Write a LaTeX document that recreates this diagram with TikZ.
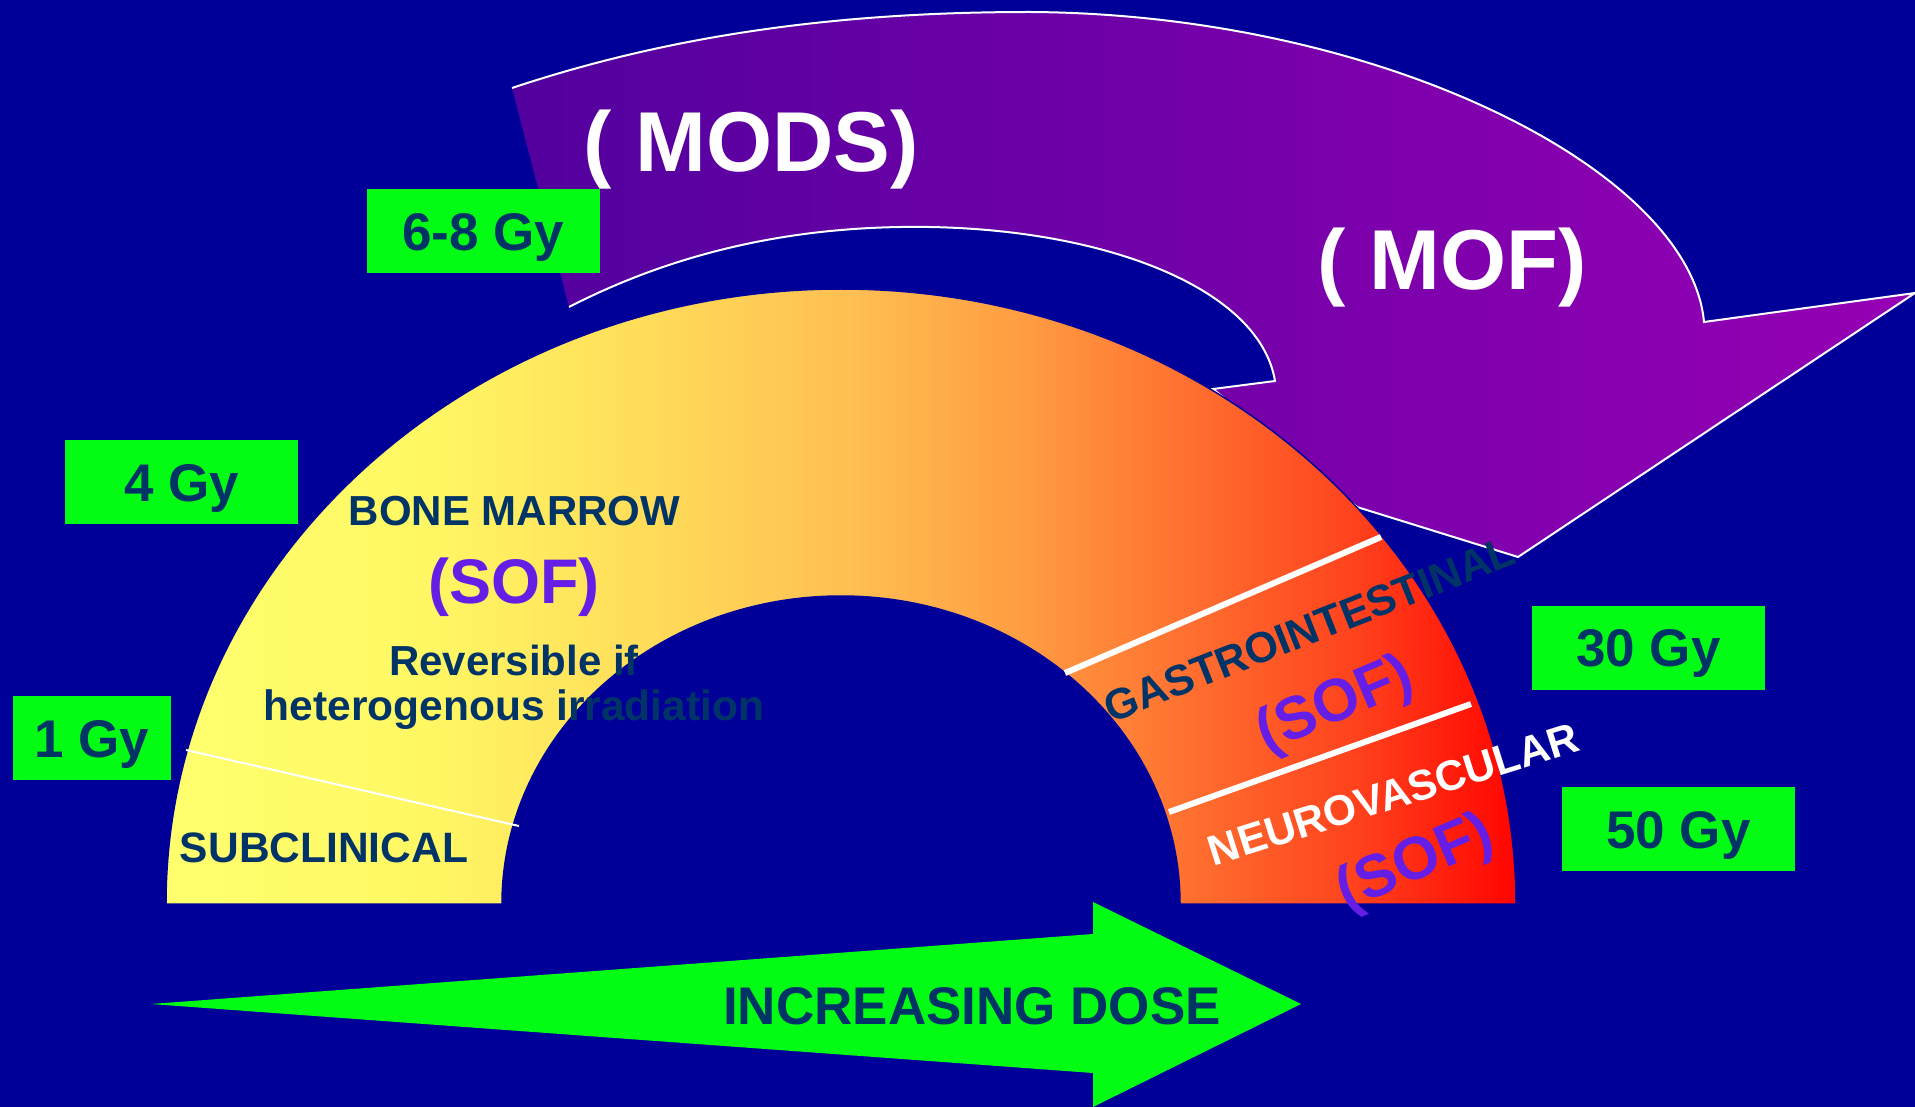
\documentclass[tikz,border=0pt]{standalone}
\usepackage{fontspec}
\setmainfont{Liberation Sans}
\definecolor{bg}{RGB}{0,0,153}
\definecolor{grn}{RGB}{2,252,20}
\definecolor{darktext}{RGB}{0,51,102}
\definecolor{sofc}{RGB}{100,30,230}
\definecolor{purL}{RGB}{82,0,158}
\definecolor{purR}{RGB}{150,0,180}
\definecolor{rc0}{RGB}{255,255,110}
\definecolor{rc1}{RGB}{255,248,100}
\definecolor{rc2}{RGB}{255,222,90}
\definecolor{rc3}{RGB}{255,190,82}
\definecolor{rc4}{RGB}{255,155,65}
\definecolor{rc5}{RGB}{255,108,46}
\definecolor{rc6}{RGB}{255,68,30}
\definecolor{rc7}{RGB}{255,5,0}
\pgfdeclarehorizontalshading{rbow}{100bp}{color(0bp)=(rc0); color(25bp)=(rc0); color(34.4bp)=(rc1); color(42.4bp)=(rc2); color(50.5bp)=(rc3); color(57bp)=(rc4); color(63.3bp)=(rc5); color(68.8bp)=(rc6); color(75bp)=(rc7); color(100bp)=(rc7)}
\begin{document}
\begin{tikzpicture}[x=1pt,y=-1pt,
  gybox/.style={fill=grn, inner sep=0pt, text=darktext,
    font=\fontsize{53}{60}\selectfont\bfseries, text height=38pt, text depth=0pt,
    minimum height=84pt},
  labeltxt/.style={text=darktext, font=\fontsize{42}{48}\selectfont\bfseries, inner sep=0pt},
  softxt/.style={text=sofc, font=\fontsize{63}{70}\selectfont\bfseries, inner sep=0pt},
  bigtxt/.style={text=white, font=\fontsize{85}{90}\selectfont\bfseries, inner sep=0pt},
  divline/.style={white, line width=6pt}
]
\useasboundingbox (0,0) rectangle (1915,1107);
\fill[bg] (0,0) rectangle (1915,1107);

% purple curved arrow
\path[left color=purL, right color=purR]
  (512,88) .. controls (680,32) and (850,12) .. (1030,12)
  .. controls (1380,14) and (1690,170) .. (1704,322)
  -- (1915,293) -- (1518,557) -- (1357,507) -- (1213,389) -- (1275,381)
  .. controls (1260,290) and (1110,230) .. (929,227)
  .. controls (800,225) and (680,250) .. (569,307) -- cycle;
\draw[white, line width=2pt, line join=miter]
  (569,307) .. controls (680,250) and (800,225) .. (929,227)
  .. controls (1110,230) and (1260,290) .. (1275,381)
  -- (1213,389) -- (1357,507) -- (1518,557) -- (1915,293) -- (1704,322)
  .. controls (1690,170) and (1380,14) .. (1030,12)
  .. controls (850,12) and (680,32) .. (512,88);

% rainbow half ring
\shadedraw[shading=rbow, draw=bg, line width=1.5pt]
  (166,904) arc[start angle=180, end angle=360, x radius=675, y radius=615]
  -- (1180,904) arc[start angle=360, end angle=180, x radius=339, y radius=308] -- cycle;

\draw[white, line width=2pt] (186,750) -- (519,826);
\draw[divline] (1065,673) -- (1381,537);
\draw[divline] (1169,812) -- (1471,704);

% green dose arrow
\coordinate (tail) at (151,1004);
\coordinate (tip) at (1301,1004);
\fill[grn] (tail) -- (1093,934) -- (1093,902) -- (tip) -- (1093,1107) -- (1093,1073) -- cycle;
\node[labeltxt, font=\fontsize{53}{60}\selectfont\bfseries, anchor=base] (dose) at (972,1024) {INCREASING DOSE};

% titles
\node[bigtxt, anchor=base] (mods) at (751,172) {( MODS)};
\node[bigtxt, anchor=base] (mof) at (1452,290) {( MOF)};

% dose boxes
\node[gybox, minimum width=233pt] (b68) at (483.5,231.5) {6-8 Gy};
\node[gybox, minimum width=233pt] (b4) at (181.5,482) {4 Gy};
\node[gybox, minimum width=158pt] (b1) at (92,738) {1 Gy};
\node[gybox, minimum width=233pt] (b30) at (1648.5,647.5) {30 Gy};
\node[gybox, minimum width=233pt] (b50) at (1678.5,829) {50 Gy};

% bone marrow region
\node[labeltxt, anchor=base] (bm) at (514.5,525) {BONE MARROW};
\node[softxt, anchor=base] (sofbm) at (514,603) {(SOF)};
\node[labeltxt, anchor=base] (rev1) at (514,675) {Reversible if};
\node[labeltxt, font=\fontsize{42.5}{48}\selectfont\bfseries, anchor=base] (rev2) at (514,720) {heterogenous irradiation};
\node[labeltxt, font=\fontsize{42.5}{48}\selectfont\bfseries, anchor=base] (sub) at (324,862) {SUBCLINICAL};

% GI and NV
\node[labeltxt, font=\fontsize{43}{48}\selectfont\bfseries, rotate=21.5, anchor=base] (gi) at (1315,643) {GASTROINTESTINAL};
\node[softxt, font=\fontsize{60}{66}\selectfont\bfseries, rotate=23] (sofgi) at (1336,706) {(SOF)};
\node[labeltxt, text=white, font=\fontsize{42.5}{48}\selectfont\bfseries, rotate=17.5, anchor=base] (nv) at (1398,808) {NEUROVASCULAR};
\node[softxt, font=\fontsize{60}{66}\selectfont\bfseries, rotate=23] (sofnv) at (1416,864) {(SOF)};
\end{tikzpicture}
\end{document}
